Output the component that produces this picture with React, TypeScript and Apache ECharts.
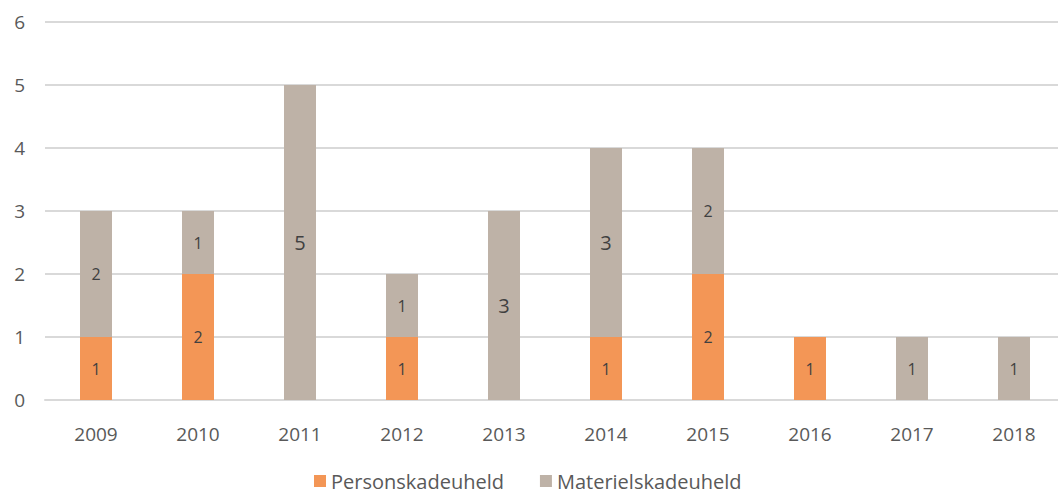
import React, { useEffect, useRef } from "react";
import * as echarts from "echarts";

const years = ["2009", "2010", "2011", "2012", "2013", "2014", "2015", "2016", "2017", "2018"];
const personskade = [1, 2, 0, 1, 0, 1, 2, 1, 0, 0];
const materielskade = [2, 1, 5, 1, 3, 3, 2, 0, 1, 1];
const largeLabelYears = ["2011", "2013", "2014"];

const FONT = "'Open Sans', 'Noto Sans', sans-serif";

export default function App() {
  const ref = useRef<HTMLDivElement>(null);
  useEffect(() => {
    if (!ref.current) return;
    const chart = echarts.init(ref.current, undefined, { renderer: "svg" });
    const mk = (vals: number[], big: boolean) =>
      vals.map((v, i) => ({
        value: v === 0 ? null : v,
        label: { fontSize: big && largeLabelYears.includes(years[i]) ? 20 : 16 },
      }));
    const labelBase = {
      show: true,
      position: "inside",
      color: "#404040",
      fontFamily: FONT,
    };
    chart.setOption({
      animation: false,
      textStyle: { fontFamily: FONT },
      grid: { left: 45, top: 22, width: 1020, height: 378, containLabel: false },
      legend: {
        left: 314,
        top: 471,
        padding: 0,
        itemWidth: 12,
        itemHeight: 12,
        itemGap: 36,
        icon: "rect",
        textStyle: { color: "#595959", fontSize: 20, lineHeight: 20, fontFamily: FONT },
        data: ["Personskadeuheld", "Materielskadeuheld"],
      },
      xAxis: {
        type: "category",
        data: years,
        axisLine: { show: true, lineStyle: { color: "#D9D9D9", width: 2 } },
        axisTick: { show: false },
        axisLabel: { color: "#595959", fontSize: 19, margin: 24, fontFamily: FONT },
      },
      yAxis: {
        type: "value",
        min: 0,
        max: 6,
        interval: 1,
        axisLine: { show: false },
        axisTick: { show: false },
        splitLine: { lineStyle: { color: "#D9D9D9", width: 2 } },
        axisLabel: { color: "#595959", fontSize: 19, margin: 20, fontFamily: FONT },
      },
      series: [
        {
          name: "Personskadeuheld",
          type: "bar",
          stack: "total",
          barWidth: 32,
          itemStyle: { color: "#F39656" },
          label: labelBase,
          data: mk(personskade, false),
        },
        {
          name: "Materielskadeuheld",
          type: "bar",
          stack: "total",
          barWidth: 32,
          itemStyle: { color: "#BEB2A7" },
          label: labelBase,
          data: mk(materielskade, true),
        },
      ],
    });
    return () => chart.dispose();
  }, []);
  return (
    <div style={{ position: "absolute", left: 0, top: 0, width: 1058, height: 493, overflow: "hidden", background: "#fff" }}>
      <div ref={ref} style={{ width: 1070, height: 493 }} />
    </div>
  );
}
